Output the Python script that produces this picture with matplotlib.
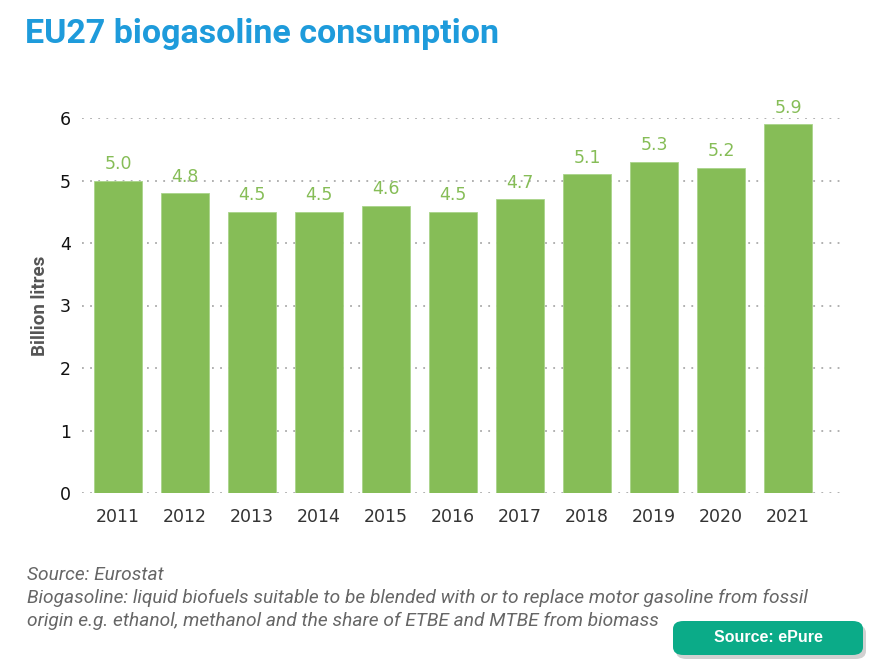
import matplotlib
matplotlib.use("Agg")
import matplotlib.pyplot as plt
from matplotlib.patches import FancyBboxPatch

years = ["2011", "2012", "2013", "2014", "2015", "2016", "2017", "2018", "2019", "2020", "2021"]
consumption = [5.0, 4.8, 4.5, 4.5, 4.6, 4.5, 4.7, 5.1, 5.3, 5.2, 5.9]
y_ticks = [0, 1, 2, 3, 4, 5, 6]

TITLE = "EU27 biogasoline consumption"
NOTE_LINES = [
    "Source: Eurostat",
    "Biogasoline: liquid biofuels suitable to be blended with or to replace motor gasoline from fossil",
    "origin e.g. ethanol, methanol and the share of ETBE and MTBE from biomass",
]

BAR_GREEN = "#86bd57"
TITLE_BLUE = "#1e9bdb"
BOX_GREEN = "#0bab88"

plt.rcParams["font.family"] = ["DejaVu Sans"]

fig = plt.figure(figsize=(8.72, 6.61), dpi=100)
ax = fig.add_axes([82 / 872, 1 - 493 / 661, (843 - 82) / 872, (493 - 118) / 661])

x = list(range(len(years)))
ax.bar(x, consumption, width=0.72, color=BAR_GREEN, edgecolor="#a9d48a", linewidth=0.6, zorder=2)
for xi, v in zip(x, consumption):
    ax.text(xi, v + 0.12, f"{v:.1f}", ha="center", va="bottom", fontsize=12.5,
            color=BAR_GREEN, clip_on=False)

ax.set_xlim(-0.54, len(years) - 1 + 0.82)
ax.set_ylim(0, 6)
ax.set_yticks(y_ticks)
ax.set_yticklabels([str(t) for t in y_ticks], fontsize=12.5, color="#111111")
ax.set_xticks(x)
ax.set_xticklabels(years, fontsize=12.5, color="#333333")
ax.tick_params(axis="both", length=0)
ax.tick_params(axis="x", pad=11)
ax.tick_params(axis="y", pad=8)
ax.grid(True, axis="y", linestyle=(0, (1, 3.5)), color="#aaaaaa", linewidth=1.3, zorder=0)
for s in ax.spines.values():
    s.set_visible(False)
ax.set_axisbelow(True)

ax.set_ylabel("Billion litres", fontsize=13.5, fontweight="bold", color="#555555",
              family=["Roboto", "DejaVu Sans"], labelpad=8)

fig.text(25 / 872, 1 - 34 / 661, TITLE, fontsize=24.5, fontweight="bold", color=TITLE_BLUE,
         family=["Roboto", "DejaVu Sans"], ha="left", va="center")

for i, line in enumerate(NOTE_LINES):
    fig.text(27 / 872, 1 - (575 + 23 * i) / 661, line, fontsize=13.8, style="italic",
             color="#666666", family=["Roboto", "DejaVu Sans"], ha="left", va="center")

# source badge with a soft shadow
shadow = FancyBboxPatch((676 / 872, 1 - 659 / 661), 190 / 872, 34 / 661,
                        boxstyle="round,pad=0,rounding_size=0.012", transform=fig.transFigure,
                        facecolor="#000000", alpha=0.18, edgecolor="none")
fig.patches.append(shadow)
badge = FancyBboxPatch((673 / 872, 1 - 655 / 661), 190 / 872, 34 / 661,
                       boxstyle="round,pad=0,rounding_size=0.012", transform=fig.transFigure,
                       facecolor=BOX_GREEN, edgecolor="none")
fig.patches.append(badge)
fig.text((673 + 95) / 872, 1 - 638 / 661, "Source: ePure", fontsize=11.5, fontweight="bold",
         color="white", family=["Liberation Sans", "DejaVu Sans"], ha="center", va="center")

fig.savefig("out.png", dpi=100)
